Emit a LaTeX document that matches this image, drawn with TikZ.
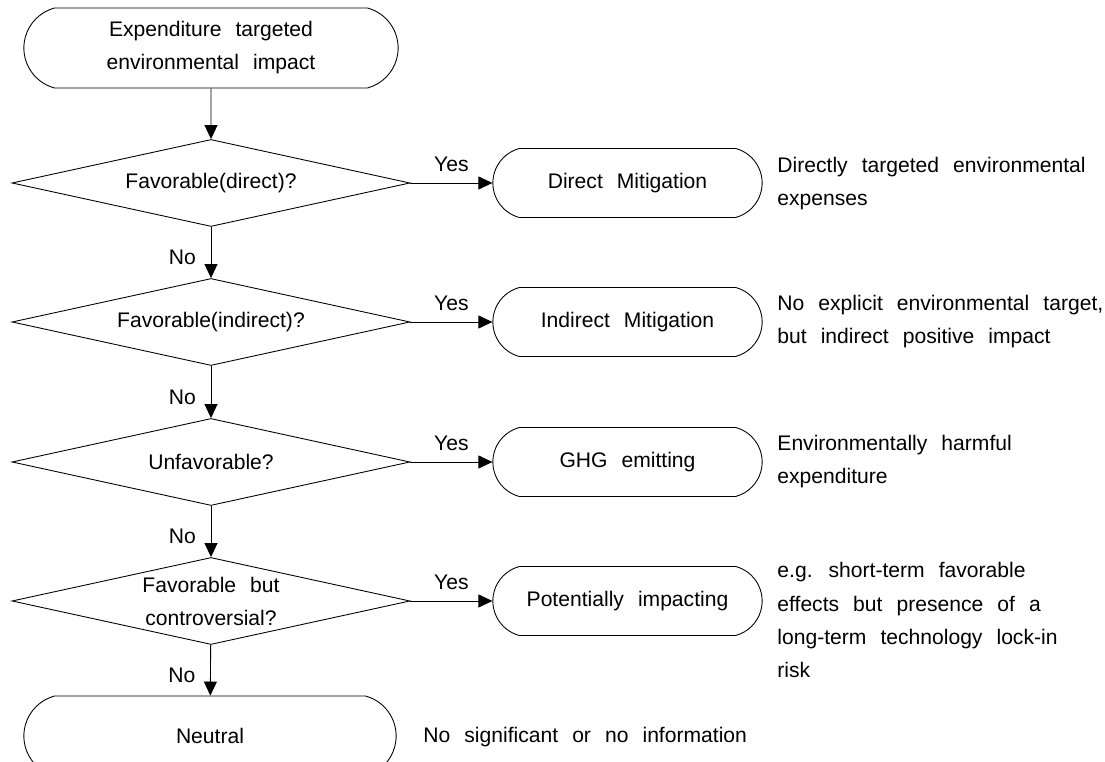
\documentclass[tikz,border=0pt]{standalone}
\usepackage{fontspec}
\setmainfont[WordSpace=2.4]{Liberation Sans}
\usetikzlibrary{shapes.geometric,shapes.misc,arrows.meta}

\begin{document}
\begin{tikzpicture}[
		font=\fontsize{12}{18.8}\selectfont,
		line width=0.5pt,
		term/.style={draw, rounded rectangle, rounded rectangle arc length=150, minimum width=7.72cm, minimum height=1.6cm, align=center},
		result/.style={draw, rounded rectangle, rounded rectangle arc length=150, minimum width=5.62cm, minimum height=1.38cm},
		decision/.style={draw, diamond, aspect=4.57, inner sep=0pt, minimum width=7.96cm, minimum height=1.74cm, align=center},
		note/.style={anchor=west, align=left, inner sep=0pt},
		arr/.style={-{Triangle[length=0.28cm,width=0.26cm]}}
	]
		\useasboundingbox (0,0) rectangle (22.1,15.24);

		\node[term] (start) at (4.22,14.28) {Expenditure targeted\\environmental impact};

		\node[decision] (direct) at (4.22,11.58) {Favorable(direct)?};
		\node[decision] (indirect) at (4.22,8.80) {Favorable(indirect)?};
		\node[decision] (unfav) at (4.22,6.00) {Unfavorable?};
		\node[decision] (contro) at (4.22,3.22) {Favorable but\\controversial?};

		\node[term, minimum width=7.68cm] (neutral) at (4.2,0.52) {Neutral};

		\node[result] (directmit) at (12.55,11.58) {Direct Mitigation};
		\node[result] (indirectmit) at (12.55,8.80) {Indirect Mitigation};
		\node[result] (ghg) at (12.55,6.00) {GHG emitting};
		\node[result] (potential) at (12.55,3.22) {Potentially impacting};

		\node[note] (directnote) at (15.54,11.56) {Directly targeted environmental\\expenses};
		\node[note] (indirectnote) at (15.54,8.80) {No explicit environmental target,\\but indirect positive impact};
		\node[note] (ghgnote) at (15.54,6.00) {Environmentally harmful\\expenditure};
		\node[note] (potentialnote) at (15.54,2.84) {e.g. short-term favorable\\effects but presence of a\\long-term technology lock-in\\risk};
		\node[note] (neutralnote) at (8.46,0.50) {No significant or no information};

		\draw[arr] (start) -- (direct);
		\draw[arr] (direct) -- node[left=5pt, pos=0.6] {No} (indirect);
		\draw[arr] (indirect) -- node[left=5pt, pos=0.6] {No} (unfav);
		\draw[arr] (unfav) -- node[left=5pt, pos=0.6] {No} (contro);
		\draw[arr] (contro) -- node[left=5pt, pos=0.6] {No} (neutral);

		\draw[arr] (direct) -- node[above=3pt] {Yes} (directmit);
		\draw[arr] (indirect) -- node[above=3pt] {Yes} (indirectmit);
		\draw[arr] (unfav) -- node[above=3pt] {Yes} (ghg);
		\draw[arr] (contro) -- node[above=3pt] {Yes} (potential);
	\end{tikzpicture}
\end{document}
